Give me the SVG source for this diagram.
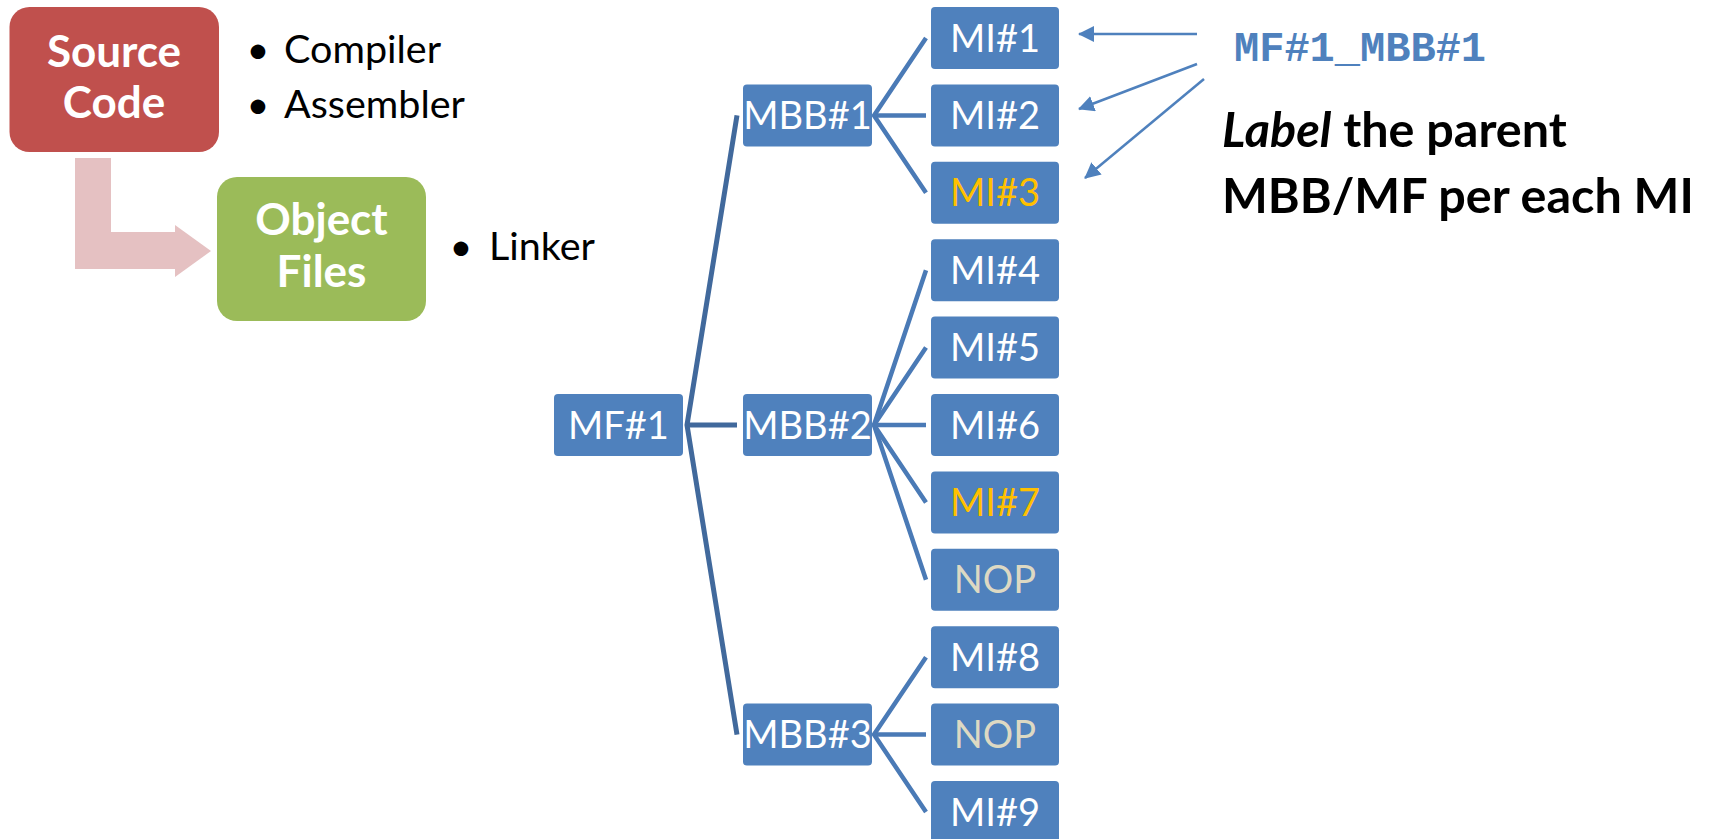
<svg xmlns="http://www.w3.org/2000/svg" width="1710" height="839" viewBox="0 0 1710 839">
  <defs>
    <style>
      .box { fill: #4F81BD; }
      .lbl { font-family: Lato, "Liberation Sans", sans-serif; font-size: 38px; fill: #FFFFFF; text-anchor: middle; }
      .gold { fill: #FFC000; }
      .nop { fill: #DDD9C3; }
      .bullet { font-family: Lato, "Liberation Sans", sans-serif; font-size: 39.5px; fill: #000000; }
      .big { font-family: Lato, "Liberation Sans", sans-serif; font-weight: bold; font-size: 44px; fill: #FFFFFF; text-anchor: middle; }
      .note { font-family: Lato, "Liberation Sans", sans-serif; font-weight: bold; font-size: 48.5px; fill: #000000; }
      .tree1 { stroke: #41699C; stroke-width: 5; fill: none; stroke-linejoin: miter; }
      .tree2 { stroke: #4A7AB6; stroke-width: 4.5; fill: none; }
      .ptr { stroke: #4F81BD; stroke-width: 2.5; fill: none; marker-end: url(#head); }
    </style>
    <marker id="head" markerUnits="userSpaceOnUse" viewBox="0 0 16 16" markerWidth="16" markerHeight="16" refX="15" refY="8" orient="auto">
      <path d="M0,0 L16,8 L0,16 z" fill="#4F81BD"/>
    </marker>
  </defs>

  <rect width="1710" height="839" fill="#FFFFFF"/>

  <!-- build flow: source code -> object files -->
  <g id="source-code">
    <rect x="9.5" y="7" width="209.5" height="145" rx="20" fill="#C0504D"/>
    <text class="big" x="114" y="67">Source</text>
    <text class="big" x="114" y="118">Code</text>
  </g>
  <g id="flow-arrow">
    <polygon points="75,158 111,158 111,232 175,232 175,225 211,251 175,277 175,269 75,269" fill="#E5C1C2"/>
  </g>
  <g id="object-files">
    <rect x="217" y="177" width="209" height="144" rx="20" fill="#9BBB59"/>
    <text class="big" x="321.5" y="235">Object</text>
    <text class="big" x="321.5" y="287">Files</text>
  </g>
  <g id="tools">
    <text class="bullet" x="258" y="63" text-anchor="middle">•</text>
    <text class="bullet" x="284" y="63">Compiler</text>
    <text class="bullet" x="258" y="118" text-anchor="middle">•</text>
    <text class="bullet" x="284" y="118">Assembler</text>
    <text class="bullet" x="461" y="260" text-anchor="middle">•</text>
    <text class="bullet" x="489" y="260">Linker</text>
  </g>

  <!-- tree connectors -->
  <g id="connectors">
    <polyline class="tree1" points="737,115.4 687,425 737,734.6"/>
    <line class="tree1" x1="687" y1="425" x2="737" y2="425"/>
    <polyline class="tree2" points="926,38 874,115.4 926,192.8"/>
    <line class="tree2" x1="874" y1="115.4" x2="926" y2="115.4"/>
    <polyline class="tree2" points="926,270.2 874,425 926,579.8"/>
    <polyline class="tree2" points="926,347.6 874,425 926,502.4"/>
    <line class="tree2" x1="874" y1="425" x2="926" y2="425"/>
    <polyline class="tree2" points="926,657.2 874,734.6 926,812"/>
    <line class="tree2" x1="874" y1="734.6" x2="926" y2="734.6"/>
  </g>

  <!-- function -->
  <g id="mf1">
    <rect class="box" x="554" y="394" width="129" height="62" rx="4"/>
    <text class="lbl" x="618.5" y="438.5">MF#1</text>
  </g>

  <!-- basic blocks -->
  <g id="mbb1">
    <rect class="box" x="743" y="84.4" width="129" height="62" rx="4"/>
    <text class="lbl" x="807.5" y="128.9">MBB#1</text>
  </g>
  <g id="mbb2">
    <rect class="box" x="743" y="394" width="129" height="62" rx="4"/>
    <text class="lbl" x="807.5" y="438.5">MBB#2</text>
  </g>
  <g id="mbb3">
    <rect class="box" x="743" y="703.6" width="129" height="62" rx="4"/>
    <text class="lbl" x="807.5" y="748.1">MBB#3</text>
  </g>

  <!-- instructions -->
  <g id="mi1">
    <rect class="box" x="931" y="7" width="128" height="62" rx="4"/>
    <text class="lbl" x="995" y="51.5">MI#1</text>
  </g>
  <g id="mi2">
    <rect class="box" x="931" y="84.4" width="128" height="62" rx="4"/>
    <text class="lbl" x="995" y="128.9">MI#2</text>
  </g>
  <g id="mi3">
    <rect class="box" x="931" y="161.8" width="128" height="62" rx="4"/>
    <text class="lbl gold" x="995" y="206.3">MI#3</text>
  </g>
  <g id="mi4">
    <rect class="box" x="931" y="239.2" width="128" height="62" rx="4"/>
    <text class="lbl" x="995" y="283.7">MI#4</text>
  </g>
  <g id="mi5">
    <rect class="box" x="931" y="316.6" width="128" height="62" rx="4"/>
    <text class="lbl" x="995" y="361.1">MI#5</text>
  </g>
  <g id="mi6">
    <rect class="box" x="931" y="394" width="128" height="62" rx="4"/>
    <text class="lbl" x="995" y="438.5">MI#6</text>
  </g>
  <g id="mi7">
    <rect class="box" x="931" y="471.4" width="128" height="62" rx="4"/>
    <text class="lbl gold" x="995" y="515.9">MI#7</text>
  </g>
  <g id="nop1">
    <rect class="box" x="931" y="548.8" width="128" height="62" rx="4"/>
    <text class="lbl nop" x="995" y="593.3">NOP</text>
  </g>
  <g id="mi8">
    <rect class="box" x="931" y="626.2" width="128" height="62" rx="4"/>
    <text class="lbl" x="995" y="670.7">MI#8</text>
  </g>
  <g id="nop2">
    <rect class="box" x="931" y="703.6" width="128" height="62" rx="4"/>
    <text class="lbl nop" x="995" y="748.1">NOP</text>
  </g>
  <g id="mi9">
    <rect class="box" x="931" y="781" width="128" height="62" rx="4"/>
    <text class="lbl" x="995" y="825.5">MI#9</text>
  </g>

  <!-- label annotation -->
  <g id="label-note">
    <text x="1234" y="61" font-family="'Liberation Mono', 'Courier New', monospace" font-weight="bold" font-size="42" fill="#4F81BD">MF#1_MBB#1</text>
    <text class="note" x="1222" y="147"><tspan font-style="italic">Label</tspan> the parent</text>
    <text class="note" x="1222" y="213">MBB/MF per each MI</text>
  </g>
  <g id="label-pointers">
    <line class="ptr" x1="1197" y1="34" x2="1079" y2="34"/>
    <line class="ptr" x1="1197" y1="64" x2="1079" y2="109"/>
    <line class="ptr" x1="1204" y1="79" x2="1085" y2="178"/>
  </g>
</svg>
